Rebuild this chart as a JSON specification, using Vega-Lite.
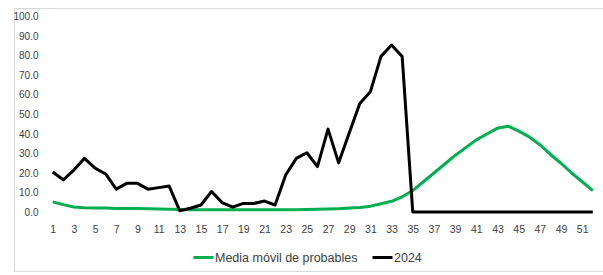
{
  "$schema": "https://vega.github.io/schema/vega-lite/v6.json",
  "width": 591,
  "height": 263,
  "autosize": {"type": "none"},
  "padding": {"left": 14, "top": 8, "right": 0, "bottom": 4},
  "background": "white",
  "config": {
    "view": {"stroke": "#d9d9d9", "strokeWidth": 1},
    "font": "Liberation Sans",
    "axis": {"labelOverlap": false, "labelBound": false, "labelFlush": false, "domain": false, "ticks": false, "grid": false, "title": null, "labelColor": "#404040", "labelFont": "Liberation Sans"},
    "axisX": {"offset": -59, "labelPadding": 12, "labelFontSize": 10.5},
    "axisY": {"offset": -24, "labelPadding": 0, "tickSize": 0, "labelFontSize": 10}
  },
  "datasets": {
    "series": [
      {"week": 1, "serie": "Media móvil de probables", "value": 5.2},
      {"week": 2, "serie": "Media móvil de probables", "value": 3.8},
      {"week": 3, "serie": "Media móvil de probables", "value": 2.6},
      {"week": 4, "serie": "Media móvil de probables", "value": 2.2},
      {"week": 5, "serie": "Media móvil de probables", "value": 2.1},
      {"week": 6, "serie": "Media móvil de probables", "value": 2.0},
      {"week": 7, "serie": "Media móvil de probables", "value": 1.8},
      {"week": 8, "serie": "Media móvil de probables", "value": 1.8},
      {"week": 9, "serie": "Media móvil de probables", "value": 1.8},
      {"week": 10, "serie": "Media móvil de probables", "value": 1.7},
      {"week": 11, "serie": "Media móvil de probables", "value": 1.5},
      {"week": 12, "serie": "Media móvil de probables", "value": 1.4},
      {"week": 13, "serie": "Media móvil de probables", "value": 1.3},
      {"week": 14, "serie": "Media móvil de probables", "value": 1.2},
      {"week": 15, "serie": "Media móvil de probables", "value": 1.2},
      {"week": 16, "serie": "Media móvil de probables", "value": 1.1},
      {"week": 17, "serie": "Media móvil de probables", "value": 1.1},
      {"week": 18, "serie": "Media móvil de probables", "value": 1.1},
      {"week": 19, "serie": "Media móvil de probables", "value": 1.1},
      {"week": 20, "serie": "Media móvil de probables", "value": 1.1},
      {"week": 21, "serie": "Media móvil de probables", "value": 1.1},
      {"week": 22, "serie": "Media móvil de probables", "value": 1.1},
      {"week": 23, "serie": "Media móvil de probables", "value": 1.1},
      {"week": 24, "serie": "Media móvil de probables", "value": 1.2},
      {"week": 25, "serie": "Media móvil de probables", "value": 1.3},
      {"week": 26, "serie": "Media móvil de probables", "value": 1.4},
      {"week": 27, "serie": "Media móvil de probables", "value": 1.5},
      {"week": 28, "serie": "Media móvil de probables", "value": 1.7},
      {"week": 29, "serie": "Media móvil de probables", "value": 2.0},
      {"week": 30, "serie": "Media móvil de probables", "value": 2.3},
      {"week": 31, "serie": "Media móvil de probables", "value": 3.0},
      {"week": 32, "serie": "Media móvil de probables", "value": 4.2},
      {"week": 33, "serie": "Media móvil de probables", "value": 5.5},
      {"week": 34, "serie": "Media móvil de probables", "value": 7.8},
      {"week": 35, "serie": "Media móvil de probables", "value": 11.0},
      {"week": 36, "serie": "Media móvil de probables", "value": 15.5},
      {"week": 37, "serie": "Media móvil de probables", "value": 20.0},
      {"week": 38, "serie": "Media móvil de probables", "value": 24.5},
      {"week": 39, "serie": "Media móvil de probables", "value": 29.0},
      {"week": 40, "serie": "Media móvil de probables", "value": 33.0},
      {"week": 41, "serie": "Media móvil de probables", "value": 37.0},
      {"week": 42, "serie": "Media móvil de probables", "value": 40.0},
      {"week": 43, "serie": "Media móvil de probables", "value": 43.0},
      {"week": 44, "serie": "Media móvil de probables", "value": 44.0},
      {"week": 45, "serie": "Media móvil de probables", "value": 41.5},
      {"week": 46, "serie": "Media móvil de probables", "value": 38.5},
      {"week": 47, "serie": "Media móvil de probables", "value": 34.5},
      {"week": 48, "serie": "Media móvil de probables", "value": 29.5},
      {"week": 49, "serie": "Media móvil de probables", "value": 25.0},
      {"week": 50, "serie": "Media móvil de probables", "value": 20.0},
      {"week": 51, "serie": "Media móvil de probables", "value": 15.5},
      {"week": 52, "serie": "Media móvil de probables", "value": 11.0},
      {"week": 1, "serie": "2024", "value": 20.5},
      {"week": 2, "serie": "2024", "value": 16.5},
      {"week": 3, "serie": "2024", "value": 21.5},
      {"week": 4, "serie": "2024", "value": 27.5},
      {"week": 5, "serie": "2024", "value": 22.5},
      {"week": 6, "serie": "2024", "value": 19.5},
      {"week": 7, "serie": "2024", "value": 11.7},
      {"week": 8, "serie": "2024", "value": 14.7},
      {"week": 9, "serie": "2024", "value": 14.7},
      {"week": 10, "serie": "2024", "value": 11.7},
      {"week": 11, "serie": "2024", "value": 12.5},
      {"week": 12, "serie": "2024", "value": 13.3},
      {"week": 13, "serie": "2024", "value": 0.6},
      {"week": 14, "serie": "2024", "value": 1.9},
      {"week": 15, "serie": "2024", "value": 3.6},
      {"week": 16, "serie": "2024", "value": 10.5},
      {"week": 17, "serie": "2024", "value": 4.8},
      {"week": 18, "serie": "2024", "value": 2.5},
      {"week": 19, "serie": "2024", "value": 4.4},
      {"week": 20, "serie": "2024", "value": 4.4},
      {"week": 21, "serie": "2024", "value": 5.6},
      {"week": 22, "serie": "2024", "value": 3.6},
      {"week": 23, "serie": "2024", "value": 19.0},
      {"week": 24, "serie": "2024", "value": 27.5},
      {"week": 25, "serie": "2024", "value": 30.4},
      {"week": 26, "serie": "2024", "value": 23.3},
      {"week": 27, "serie": "2024", "value": 42.5},
      {"week": 28, "serie": "2024", "value": 25.2},
      {"week": 29, "serie": "2024", "value": 40.5},
      {"week": 30, "serie": "2024", "value": 55.7},
      {"week": 31, "serie": "2024", "value": 61.7},
      {"week": 32, "serie": "2024", "value": 79.8},
      {"week": 33, "serie": "2024", "value": 85.6},
      {"week": 34, "serie": "2024", "value": 79.7},
      {"week": 35, "serie": "2024", "value": 0},
      {"week": 36, "serie": "2024", "value": 0},
      {"week": 37, "serie": "2024", "value": 0},
      {"week": 38, "serie": "2024", "value": 0},
      {"week": 39, "serie": "2024", "value": 0},
      {"week": 40, "serie": "2024", "value": 0},
      {"week": 41, "serie": "2024", "value": 0},
      {"week": 42, "serie": "2024", "value": 0},
      {"week": 43, "serie": "2024", "value": 0},
      {"week": 44, "serie": "2024", "value": 0},
      {"week": 45, "serie": "2024", "value": 0},
      {"week": 46, "serie": "2024", "value": 0},
      {"week": 47, "serie": "2024", "value": 0},
      {"week": 48, "serie": "2024", "value": 0},
      {"week": 49, "serie": "2024", "value": 0},
      {"week": 50, "serie": "2024", "value": 0},
      {"week": 51, "serie": "2024", "value": 0},
      {"week": 52, "serie": "2024", "value": 0}
    ]
  },
  "data": {"name": "series"},
  "encoding": {
    "x": {
      "field": "week", "type": "quantitative",
      "scale": {"domain": [-2.654, 53.153], "nice": false, "zero": false},
      "axis": {
        "values": [1,3,5,7,9,11,13,15,17,19,21,23,25,27,29,31,33,35,37,39,41,43,45,47,49,51],
        "format": "d", "labelOverlap": false
      }
    },
    "y": {
      "field": "value", "type": "quantitative",
      "scale": {"domain": [-30.256, 104.615], "nice": false, "zero": false},
      "axis": {
        "values": [0,10,20,30,40,50,60,70,80,90,100],
        "format": ".1f", "labelOverlap": false
      }
    }
  },
  "layer": [
    {
      "transform": [{"aggregate": [{"op": "min", "field": "week", "as": "w0"}, {"op": "max", "field": "week", "as": "w1"}]}],
      "mark": {"type": "rule", "color": "#d9d9d9", "strokeWidth": 1},
      "encoding": {
        "x": {"field": "w0", "type": "quantitative"},
        "x2": {"field": "w1"},
        "y": {"datum": 0, "type": "quantitative"}
      }
    },
    {
      "mark": {"type": "line", "strokeWidth": 3, "strokeJoin": "round", "strokeCap": "butt"},
      "encoding": {
        "color": {
          "field": "serie", "type": "nominal",
          "scale": {"domain": ["Media móvil de probables", "2024"], "range": ["#00b050", "#000000"]},
          "legend": {
            "title": null, "orient": "none", "direction": "horizontal",
            "legendX": 178, "legendY": 238, "padding": 0,
            "symbolType": "stroke", "symbolSize": 400, "symbolStrokeWidth": 3,
            "labelFontSize": 12.5, "labelColor": "#404040", "labelFont": "Liberation Sans",
            "labelOffset": 0, "columnPadding": 8
          }
        }
      }
    }
  ]
}
